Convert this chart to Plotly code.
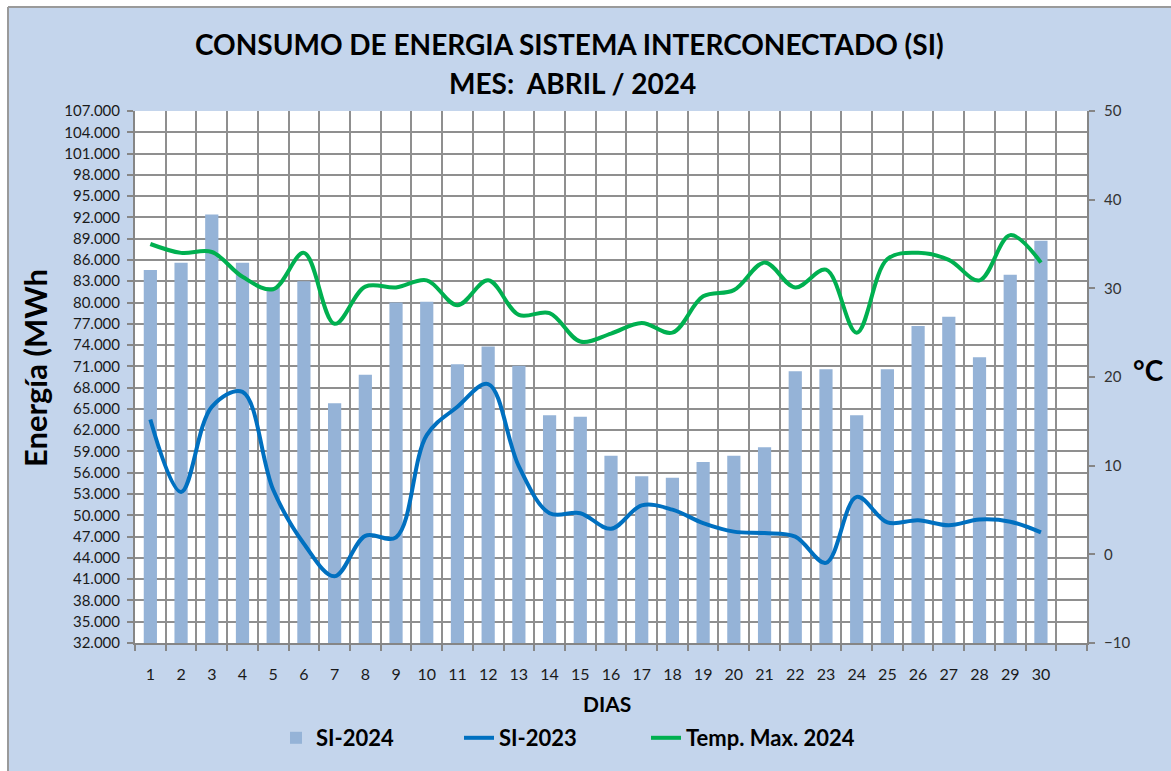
import plotly.graph_objects as go

dias = list(range(1, 31))
si_2024 = [84600, 85600, 92400, 85600, 82200, 83000, 65800, 69800, 80000, 80100,
           71300, 73800, 71100, 64100, 63900, 58400, 55500, 55300, 57500, 58400,
           59600, 70300, 70600, 64100, 70600, 76700, 78000, 72300, 83900, 88700]
si_2023 = [63500, 53300, 65300, 67400, 53600, 46000, 41400, 47100, 46900, 61300,
           65300, 68500, 56900, 50300, 50300, 48100, 51400, 50800, 48900, 47700,
           47500, 47000, 43300, 52600, 49000, 49300, 48600, 49400, 49100, 47600]
temp_max = [35.0, 34.0, 34.1, 31.3, 29.9, 34.0, 26.0, 30.2, 30.1, 30.9,
            28.1, 30.9, 27.0, 27.2, 24.0, 24.9, 26.1, 25.0, 29.1, 29.8,
            32.9, 30.1, 32.1, 25.0, 33.3, 34.0, 33.2, 30.9, 36.0, 32.9]
left_ticks = list(range(32000, 107001, 3000))
right_ticks = list(range(-10, 51, 10))

FONT = "Lato"
W, H = 1171, 771
L, R, T, B = 135, 1087, 111, 643
PW, PH = R - L, B - T

def px(x):
    return (x - L) / PW

def py(y):
    return (B - y) / PH

fig = go.Figure()
fig.add_trace(go.Bar(x=dias, y=si_2024, name="SI-2024", marker_color="#95b3d7",
                     marker_line_width=0, width=0.43, yaxis="y", legendwidth=138))
fig.add_trace(go.Scatter(x=dias, y=si_2023, name="SI-2023", mode="lines",
                         line=dict(color="#0070c0", width=4, shape="spline", smoothing=1.0),
                         yaxis="y", legendwidth=142))
fig.add_trace(go.Scatter(x=dias, y=temp_max, name="Temp. Max. 2024", mode="lines",
                         line=dict(color="#00b050", width=4, shape="spline", smoothing=1.0),
                         yaxis="y2", legendwidth=200))

grid = "#8f8f8f"
bg = "#c4d5ec"
fig.update_layout(
    width=W, height=H,
    margin=dict(l=L, r=W - R, t=T, b=H - B, pad=0),
    paper_bgcolor=bg, plot_bgcolor="white",
    separators=",.",
    font=dict(family=FONT, color="#1a1a1a"),
    showlegend=True,
    legend=dict(orientation="h", x=px(276), xanchor="left", y=py(738), yanchor="middle",
                font=dict(family=FONT, size=22, color="black", weight="bold"),
                bgcolor="rgba(0,0,0,0)", itemwidth=30, traceorder="normal"),
    xaxis=dict(range=[0.5, 31.5], tickvals=dias, ticktext=[str(d) for d in dias],
               showgrid=False, ticks="", tickfont=dict(size=16, color="#1a1a1a"),
               ticklabelstandoff=16,
               showline=True, linecolor="#868686", linewidth=2, zeroline=False,
               minor=dict(tick0=0.5, dtick=1, showgrid=True, gridcolor=grid, gridwidth=1.5,
                          ticks="outside", ticklen=6, tickcolor="#868686", tickwidth=1.5),
               fixedrange=True),
    yaxis=dict(range=[32000, 107000], tickvals=left_ticks, tickformat=",.0f",
               showgrid=True, gridcolor=grid, gridwidth=1.5,
               ticks="outside", ticklen=6, tickcolor="#868686", tickwidth=1.5,
               ticklabelstandoff=4,
               showline=True, linecolor="#868686", linewidth=2, zeroline=False,
               tickfont=dict(size=15, color="#1a1a1a")),
    yaxis2=dict(range=[-10, 50], tickvals=right_ticks, overlaying="y", side="right",
                showgrid=False, ticks="outside", ticklen=6, tickcolor="#868686", tickwidth=1.5,
                ticklabelstandoff=6,
                showline=True, linecolor="#868686", linewidth=2, zeroline=False,
                tickfont=dict(size=15, color="#333333")),
    shapes=[
        dict(type="rect", xref="paper", yref="paper", layer="above",
             x0=px(-5), x1=px(8), y0=py(H + 10), y1=py(-5),
             fillcolor="white", line=dict(width=0)),
        dict(type="rect", xref="paper", yref="paper", layer="above",
             x0=px(-5), x1=px(W + 10), y0=py(7), y1=py(-5),
             fillcolor="white", line=dict(width=0)),
        dict(type="line", xref="paper", yref="paper", layer="above",
             x0=px(8), x1=px(8), y0=py(H + 10), y1=py(7),
             line=dict(color="#9a9a9a", width=2)),
        dict(type="line", xref="paper", yref="paper", layer="above",
             x0=px(8), x1=px(W + 10), y0=py(7), y1=py(7),
             line=dict(color="#9a9a9a", width=2)),
    ],
    annotations=[
        dict(text="<b>CONSUMO DE ENERGIA SISTEMA INTERCONECTADO (SI)</b>", xref="paper", yref="paper",
             x=px(569), y=py(44), xanchor="center", yanchor="middle", showarrow=False,
             font=dict(family=FONT, size=28, color="black")),
        dict(text="<b>MES:\u00a0 ABRIL / 2024</b>", xref="paper", yref="paper",
             x=px(572), y=py(83), xanchor="center", yanchor="middle", showarrow=False,
             font=dict(family=FONT, size=28, color="black")),
        dict(text="<b>Energía (MWh</b>", xref="paper", yref="paper", textangle=-90,
             x=px(35), y=py(368), xanchor="center", yanchor="middle", showarrow=False,
             font=dict(family=FONT, size=31, color="black")),
        dict(text="<b>°C</b>", xref="paper", yref="paper",
             x=px(1148), y=py(370), xanchor="center", yanchor="middle", showarrow=False,
             font=dict(family=FONT, size=28, color="black")),
        dict(text="<b>DIAS</b>", xref="paper", yref="paper",
             x=px(607), y=py(703), xanchor="center", yanchor="middle", showarrow=False,
             font=dict(family=FONT, size=21, color="black")),
    ],
)

fig.write_html("out.html", config={"displayModeBar": False},
               post_script="document.body.style.margin='0';")
